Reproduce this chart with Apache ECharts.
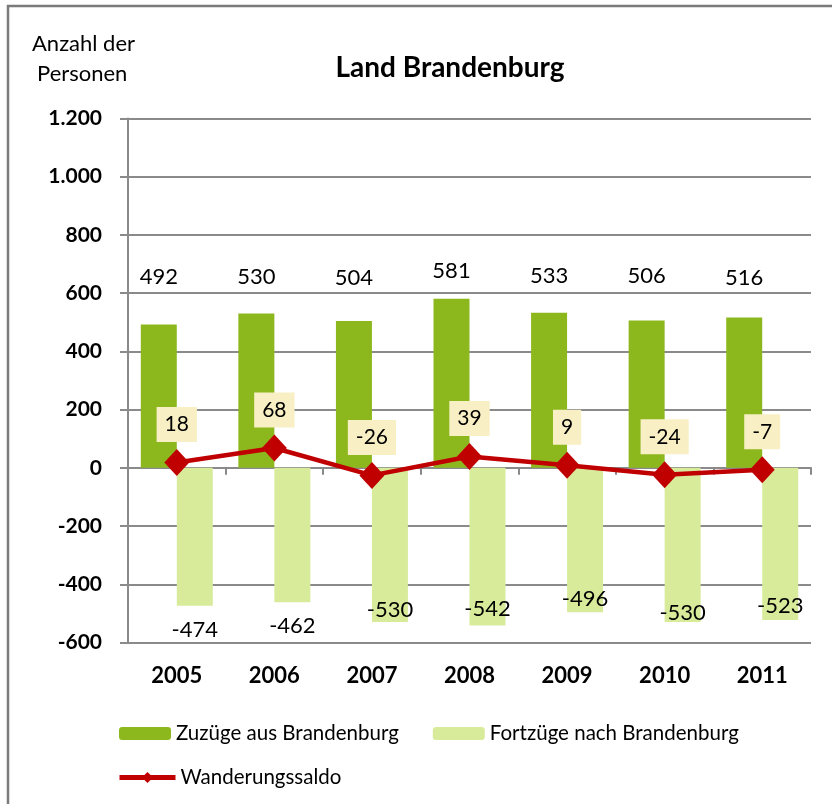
<!DOCTYPE html>
<html>
<head>
<meta charset="utf-8">
<script src="https://cdn.jsdelivr.net/npm/echarts@6/dist/echarts.min.js"></script>
<style>
  html, body { margin: 0; padding: 0; background: #fff; }
  #chart { width: 832px; height: 804px; }
</style>
</head>
<body>
<div id="chart"></div>
<script>
// Werte aus der Vorlage
const years = ["2005", "2006", "2007", "2008", "2009", "2010", "2011"];
const zuzuege = [492, 530, 504, 581, 533, 506, 516];
const fortzuege = [-474, -462, -530, -542, -496, -530, -523];
const saldo = [18, 68, -26, 39, 9, -24, -7];

// im Original von Hand verschobene Beschriftungen (px)
const zuLabelDy = [-35, -24, -31, -15, -24, -32, -27];
const fortLabelDy = [12, 11, -25, -29, -26, -22, -27];

const FONT = "Lato";
const GRID_GRAY = "#8a8a8a";

const myChart = echarts.init(document.getElementById("chart"));

const option = {
  animation: false,
  backgroundColor: "#fff",
  textStyle: { fontFamily: FONT },
  graphic: [
    {
      type: "rect",
      shape: { x: 8, y: 6, width: 830, height: 820 },
      style: { fill: "none", stroke: "#7a7a7a", lineWidth: 2.5 },
      silent: true
    },
    {
      type: "text",
      style: {
        text: "Land Brandenburg", x: 450, y: 68,
        textAlign: "center", textVerticalAlign: "middle",
        font: "bold 28px " + FONT, fill: "#000"
      }
    },
    {
      type: "text",
      style: {
        text: "Anzahl der", x: 32, y: 44,
        textAlign: "left", textVerticalAlign: "middle",
        font: "22px " + FONT, fill: "#000"
      }
    },
    {
      type: "text",
      style: {
        text: "Personen", x: 37, y: 74,
        textAlign: "left", textVerticalAlign: "middle",
        font: "22px " + FONT, fill: "#000"
      }
    }
  ],
  legend: [
    {
      data: ["Zuzüge aus Brandenburg", "Fortzüge nach Brandenburg"],
      left: 114, top: 718,
      itemWidth: 52, itemHeight: 13, itemGap: 34,
      selectedMode: false,
      textStyle: { fontSize: 20.5, fontFamily: FONT, color: "#000" }
    },
    {
      data: ["Wanderungssaldo"],
      left: 112, top: 762,
      itemWidth: 56, itemHeight: 14,
      selectedMode: false,
      lineStyle: { width: 5 },
      textStyle: { fontSize: 20.5, fontFamily: FONT, color: "#000" }
    }
  ],
  // grid 0: Diagramm; grid 1 endet auf der Nulllinie und traegt nur die Kategorie-Achse mit Strichen
  grid: [
    { left: 128, right: 21, top: 118.5, bottom: 161.5 },
    { left: 128, right: 21, top: 118.5, height: 349.2 }
  ],
  xAxis: [
    {
      type: "category",
      data: years,
      gridIndex: 0,
      position: "bottom",
      axisLine: { show: false, onZero: false },
      axisTick: { show: false },
      axisLabel: {
        margin: 22,
        fontSize: 22, fontWeight: "bold", fontFamily: FONT, color: "#000"
      }
    },
    {
      type: "category",
      data: years,
      gridIndex: 1,
      position: "bottom",
      min: 0, max: years.length - 1,
      axisLine: { show: true, onZero: false, lineStyle: { color: GRID_GRAY, width: 2 } },
      axisTick: { show: true, length: 7, lineStyle: { color: GRID_GRAY, width: 2 } },
      axisLabel: { show: false },
      splitLine: { show: false }
    }
  ],
  yAxis: [
    {
      type: "value",
      gridIndex: 0,
      min: -600, max: 1200, interval: 200,
      axisLine: { show: true, onZero: false, lineStyle: { color: GRID_GRAY, width: 2 } },
      axisTick: { show: true, length: 8, lineStyle: { color: GRID_GRAY, width: 2 } },
      splitLine: { show: true, lineStyle: { color: GRID_GRAY, width: 2 } },
      axisLabel: {
        margin: 26,
        fontSize: 21, fontWeight: "bold", fontFamily: FONT, color: "#000",
        formatter: v => String(v).replace(/\B(?=(\d{3})+(?!\d))/g, ".")
      }
    },
    {
      type: "value",
      gridIndex: 1,
      min: 0, max: 1,
      show: false
    }
  ],
  series: [
    {
      name: "Zuzüge aus Brandenburg",
      type: "bar",
      barWidth: 36,
      barGap: "0%",
      itemStyle: { color: "#8cb81e" },
      label: {
        show: true, position: "top", distance: 0,
        fontSize: 22, lineHeight: 25, fontFamily: FONT, color: "#000"
      },
      data: zuzuege.map((v, i) => ({ value: v, label: { offset: [0, zuLabelDy[i]] } }))
    },
    {
      name: "Fortzüge nach Brandenburg",
      type: "bar",
      barWidth: 36,
      barGap: "0%",
      itemStyle: { color: "#d7eb9a" },
      label: {
        show: true, position: "bottom", distance: 0,
        fontSize: 22, lineHeight: 25, fontFamily: FONT, color: "#000"
      },
      data: fortzuege.map((v, i) => ({ value: v, label: { offset: [0, fortLabelDy[i]] } }))
    },
    {
      name: "Wanderungssaldo",
      type: "line",
      z: 5,
      symbol: "diamond",
      symbolSize: [25, 27],
      lineStyle: { color: "#c00000", width: 4.5 },
      itemStyle: { color: "#c00000" },
      label: {
        show: true, position: "top", distance: 7,
        fontSize: 21, lineHeight: 23, fontFamily: FONT, color: "#000",
        backgroundColor: "#f8f0c4",
        padding: [6, 8]
      },
      data: saldo
    }
  ]
};

myChart.setOption(option);
</script>
</body>
</html>
